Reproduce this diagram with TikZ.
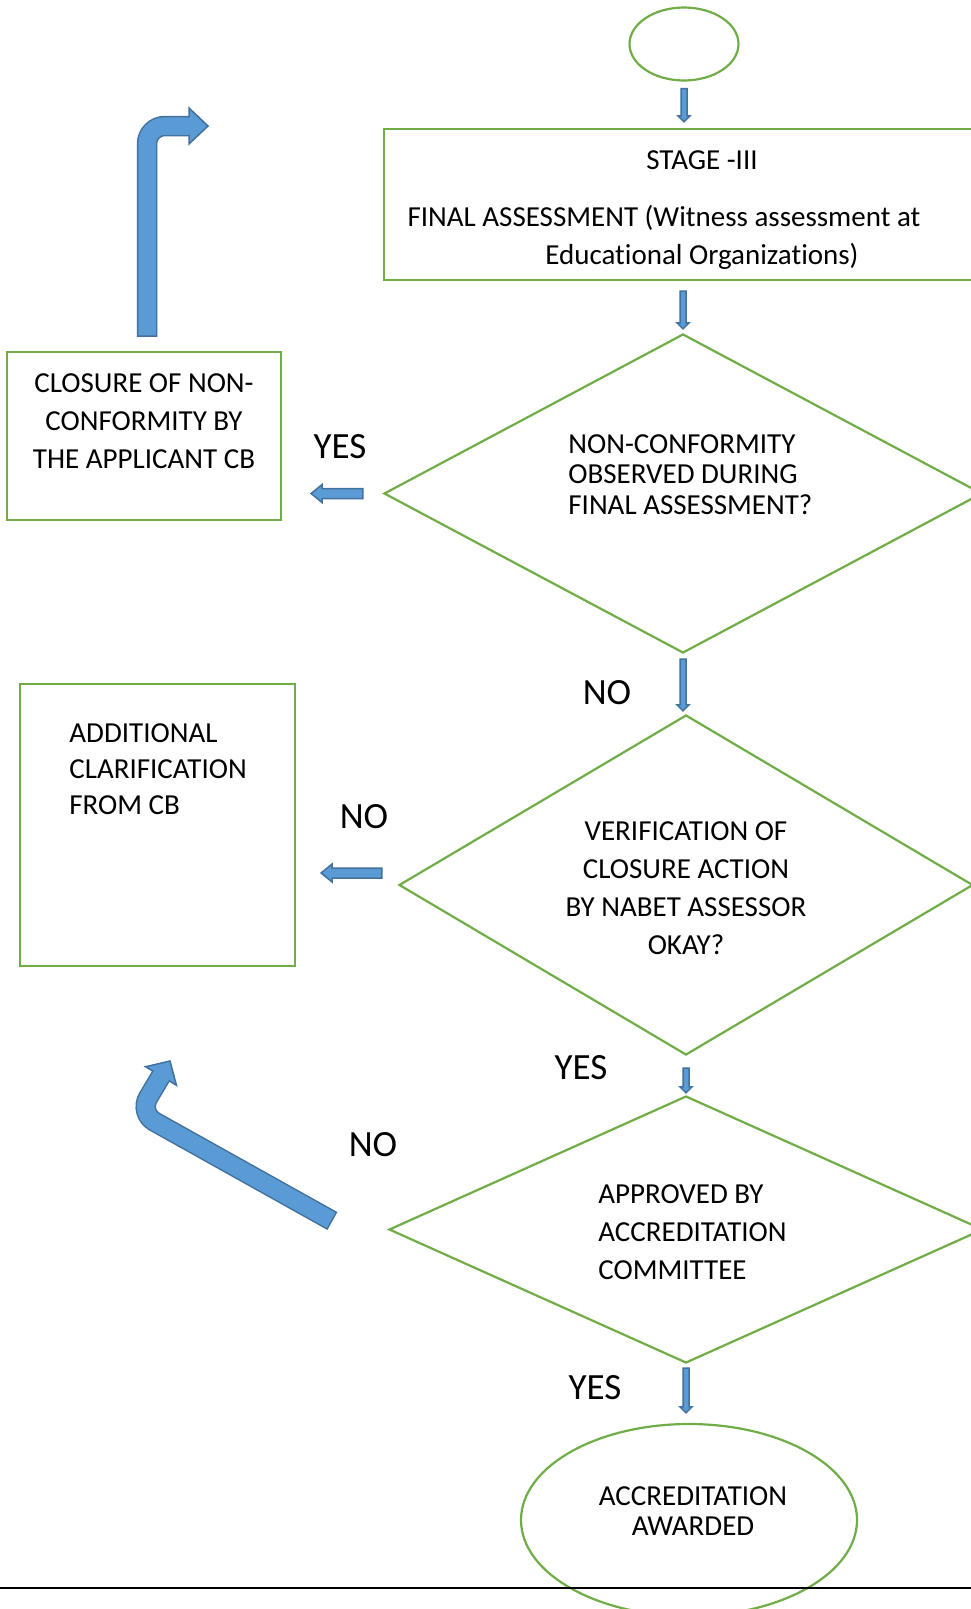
\documentclass[tikz,border=0pt]{standalone}
\usepackage{fontspec}
\setmainfont{Carlito}[Ligatures=NoCommon]
\usetikzlibrary{shapes.geometric,calc}

\definecolor{flowgreen}{HTML}{70AD47}
\definecolor{arrowfill}{HTML}{5B9BD5}
\definecolor{arrowline}{HTML}{41719C}

\tikzset{every picture/.style={line width=0.75pt}}

\begin{document}
\begin{tikzpicture}[x=1pt, y=-1pt,
                    box/.style={draw=flowgreen, line width=2.2pt, rectangle, inner sep=0pt},
                    decision/.style={draw=flowgreen, line width=2.2pt, diamond, inner sep=0pt},
                    terminal/.style={draw=flowgreen, line width=2.2pt, ellipse, inner sep=0pt},
                    txt/.style={font=\fontsize{29}{38}\selectfont, inner sep=0pt},
                    lbl/.style={font=\fontsize{37}{40}\selectfont, inner sep=0pt},
                    fatarrow/.style={fill=arrowfill, draw=arrowline, line width=1.5pt},
                    bentout/.style={draw=arrowline, line width=20.5pt, rounded corners=18pt},
                    bentin/.style={draw=arrowfill, line width=17.5pt, rounded corners=18pt}]
  % page
  \useasboundingbox (0,0) rectangle (971,1609);
  \fill[white] (0,0) rectangle (971,1609);
  \clip (0,0) rectangle (971,1609);

  % from, to, half shaft, half head, head length
  \def\blockarrow#1#2#3#4#5{%
    \coordinate (hb) at ($(#2)!#5!(#1)$);
    \filldraw[fatarrow] ($(#1)!#3!90:(#2)$) -- ($(hb)!#3!90:(#2)$) -- ($(hb)!#4!90:(#2)$)
      -- (#2) -- ($(hb)!#4!-90:(#2)$) -- ($(hb)!#3!-90:(#2)$) -- ($(#1)!#3!-90:(#2)$) -- cycle;
  }
  % start, corner, head base, tip
  \def\bentarrow#1#2#3#4{%
    \draw[bentout] (#1) -- (#2) -- (#3);
    \filldraw[fatarrow] ($(#3)!18pt!90:(#4)$) -- (#4) -- ($(#3)!18pt!-90:(#4)$) -- cycle;
    \draw[bentin] ($(#1)!1.5pt!(#2)$) -- (#2) -- ($(#3)!1.5pt!(#4)$);
  }

  % stage box
  \node[terminal, minimum width=109, minimum height=73] (start) at (684,44) {};
  \node[box, minimum width=640, minimum height=151] (stage) at (704,204.5) {};
  \node[txt] (stagehead) at (702,160) {STAGE -III};
  \node[txt] (stagetext) at (664,218) {FINAL ASSESSMENT (Witness assessment at};
  \node[txt] (stagetext2) at (702,256) {Educational Organizations)};

  % decisions
  \node[decision, minimum width=598, minimum height=319] (ncq) at (683,493.5) {};
  \node[txt, align=left, anchor=west, font=\fontsize{29}{30.5}\selectfont] (ncqtext) at (568,474.5)
    {NON-CONFORMITY\\OBSERVED DURING\\FINAL ASSESSMENT?};
  \node[decision, minimum width=574, minimum height=340] (verify) at (686,885) {};
  \node[txt, align=center] (verifytext) at (686,888)
    {VERIFICATION OF\\CLOSURE ACTION\\BY NABET ASSESSOR\\OKAY?};
  \node[decision, minimum width=594, minimum height=267] (approve) at (686,1229.5) {};
  \node[txt, align=left, anchor=west] (approvetext) at (598,1232)
    {APPROVED BY\\ACCREDITATION\\COMMITTEE};
  \node[terminal, minimum width=336, minimum height=192] (award) at (689,1520) {};
  \node[txt, align=center, font=\fontsize{29}{30}\selectfont] (awardtext) at (693,1511)
    {ACCREDITATION\\AWARDED};

  % side boxes
  \node[box, minimum width=274, minimum height=168] (closure) at (144,436) {};
  \node[txt, align=center] (closuretext) at (144,421)
    {CLOSURE OF NON-\\CONFORMITY BY\\THE APPLICANT CB};
  \node[box, minimum width=275, minimum height=282] (clarify) at (157.5,825) {};
  \node[txt, align=left, anchor=west, font=\fontsize{29}{36}\selectfont] (clarifytext) at (69,769)
    {ADDITIONAL\\CLARIFICATION\\FROM CB};

  % yes / no
  \node[lbl] (yes1) at (340,447) {YES};
  \node[lbl] (no1) at (607,693) {NO};
  \node[lbl] (no2) at (364,817) {NO};
  \node[lbl] (yes2) at (581,1068) {YES};
  \node[lbl] (no3) at (373,1145) {NO};
  \node[lbl] (yes3) at (595,1388) {YES};

  % block arrows
  \coordinate (a1s) at ($(start.south)+(0,7)$);
  \coordinate (a1e) at ($(start.south |- stage.north)+(0,-6)$);
  \coordinate (a2s) at ($(ncq.north |- stage.south)+(0,10)$);
  \coordinate (a2e) at ($(ncq.north)+(0,-4)$);
  \coordinate (a3s) at ($(ncq.west)+(-20,0)$);
  \coordinate (a3e) at ($(closure.east |- ncq.west)+(29,0)$);
  \coordinate (a4s) at ($(ncq.south)+(0,5)$);
  \coordinate (a4e) at ($(ncq.south |- verify.north)+(0,-3)$);
  \coordinate (a5s) at ($(verify.west)+(-16,-12)$);
  \coordinate (a5e) at ($(clarify.east |- verify.west)+(25,-12)$);
  \coordinate (a6s) at ($(verify.south)+(0,12)$);
  \coordinate (a6e) at ($(approve.north)+(0,-2)$);
  \coordinate (a7s) at ($(approve.south)+(0,4)$);
  \coordinate (a7e) at ($(approve.south |- award.north)+(0,-10)$);
  \blockarrow{a1s}{a1e}{3pt}{6pt}{6pt}
  \blockarrow{a2s}{a2e}{3pt}{6pt}{6pt}
  \blockarrow{a3s}{a3e}{5pt}{9pt}{11pt}
  \blockarrow{a4s}{a4e}{3pt}{6pt}{6pt}
  \blockarrow{a5s}{a5e}{5pt}{9pt}{11pt}
  \blockarrow{a6s}{a6e}{3pt}{6pt}{6pt}
  \blockarrow{a7s}{a7e}{3pt}{6pt}{6pt}

  % loop back arrows
  \coordinate (b1s) at ($(closure.north)+(3,-14)$);
  \coordinate (b1c) at (147,126);
  \coordinate (b1h) at (189,126);
  \coordinate (b1t) at (208,126);
  \bentarrow{b1s}{b1c}{b1h}{b1t}
  \coordinate (b2s) at ($(approve.west)+(-55.5,-8.5)$);
  \coordinate (b2c) at (139,1113);
  \coordinate (b2h) at (161,1076);
  \coordinate (b2t) at (170,1061);
  \bentarrow{b2s}{b2c}{b2h}{b2t}

  % bottom rule
  \draw[black, line width=1.5pt] (0,1588) -- (971,1588);
\end{tikzpicture}
\end{document}
